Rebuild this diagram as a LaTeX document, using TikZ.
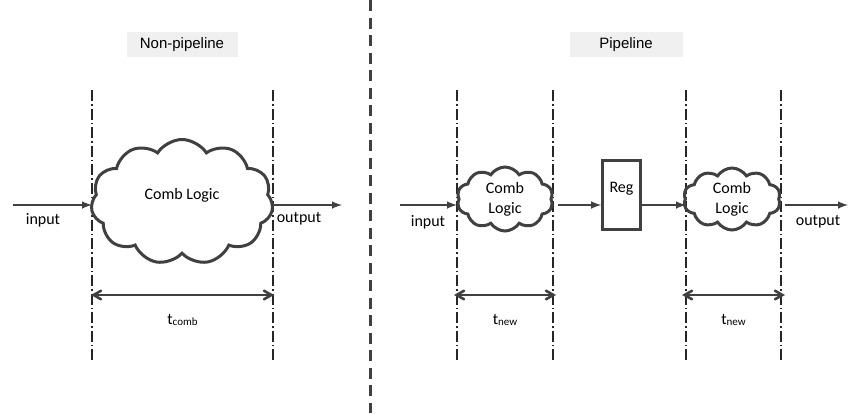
\documentclass[tikz,border=0pt]{standalone}
\usepackage{fontspec}
\setmainfont{Carlito}
\newfontfamily\headfont{Liberation Sans}
\usetikzlibrary{arrows,shapes.symbols}
\definecolor{linegray}{HTML}{404040}
\definecolor{headgray}{HTML}{F0F0F0}
\tikzstyle{cloudbox}=[cloud,draw=linegray,line width=3pt,cloud puffs=11,cloud puff arc=115,inner sep=0pt,align=center,font=\fontsize{16}{20}\selectfont]
\tikzstyle{regbox}=[rectangle,draw=linegray,line width=2.6pt,minimum width=38pt,minimum height=69pt]
\tikzstyle{edge} = [draw=linegray,line width=2.4pt,-latex]
\tikzstyle{dim} = [draw=linegray,line width=2.6pt,<->,>=angle 60]
\tikzstyle{bound} = [draw=black!85,line width=1.3pt,dash pattern=on 11pt off 3pt on 1.5pt off 3pt]
\tikzstyle{txt} = [font=\fontsize{16}{20}\selectfont,inner sep=0pt]
\tikzstyle{header} = [fill=headgray,font=\headfont\fontsize{15}{18}\selectfont,minimum height=25pt,inner sep=0pt]

\begin{document}
\begin{tikzpicture}[x=1pt,y=-1pt]
	\useasboundingbox (0,0) rectangle (850,413);

	% First the headers and the separating line
	\node[header,minimum width=111pt] (hnon) at (182,44.5) {Non-pipeline};
	\node[header,minimum width=113pt] (hpipe) at (626,44.5) {Pipeline};
	\coordinate (septop) at (370,0);
	\coordinate (sepbot) at (370,413);
	\draw[linegray,line width=3pt,dash pattern=on 11pt off 6.5pt] (septop) -- (sepbot);

	% Timing boundaries
	\foreach \x/\name in {92/A1, 273/A2, 457/B1, 553/B2, 686/C1, 781/C2}{
		\coordinate (\name t) at (\x,90);
		\coordinate (\name b) at (\x,362);
		\draw[bound] (\name t) -- (\name b);
	}

	% Logic blocks
	\node[cloudbox,minimum width=182pt,minimum height=125pt] (cloudA) at (182,202) {};
	\node[txt] (combA) at (182,195) {Comb Logic};
	\node[cloudbox,cloud puffs=10,minimum width=96pt,minimum height=64pt] (cloudB) at (505,199) {Comb\\Logic};
	\node[cloudbox,cloud puffs=10,minimum width=97pt,minimum height=62pt] (cloudC) at (732,199) {Comb\\Logic};
	\node[regbox] (reg) at (621.5,195) {};
	\node[txt] (regtxt) at (621.5,189) {Reg};

	% Signal arrows
	\coordinate (inA) at (13,205);
	\coordinate (outA) at (342,205);
	\coordinate (inB) at (400,205);
	\coordinate (fromB) at (558,205);
	\coordinate (toC) at (785,205);
	\coordinate (outC) at (848,205);
	\path[edge] (inA) -- (inA -| A1t);
	\path[edge] (A2t |- outA) -- (outA);
	\path[edge] (inB) -- (inB -| B1t);
	\path[edge] (fromB) -- (fromB -| reg.west);
	\path[edge] (reg.east |- fromB) -- (fromB -| C1t);
	\path[edge] (toC) -- (outC);

	\node[txt] (linA) at (43,220) {input};
	\node[txt] (loutA) at (299,219) {output};
	\node[txt] (linB) at (428,222) {input};
	\node[txt] (loutC) at (818,222) {output};

	% Delays
	\coordinate (dimy) at (0,295);
	\path[dim,shorten <=-1pt,shorten >=-1pt] (A1t |- dimy) -- node[txt,yshift=-25pt] (tcomb) {t\raisebox{-1.5pt}{\fontsize{11}{12}\selectfont comb}} (A2t |- dimy);
	\path[dim,shorten <=-3pt,shorten >=-3pt] (B1t |- dimy) -- node[txt,yshift=-25pt] (tnewB) {t\raisebox{-1.5pt}{\fontsize{11}{12}\selectfont new}} (B2t |- dimy);
	\path[dim,shorten <=-4pt,shorten >=-4pt] (C1t |- dimy) -- node[txt,yshift=-25pt] (tnewC) {t\raisebox{-1.5pt}{\fontsize{11}{12}\selectfont new}} (C2t |- dimy);
\end{tikzpicture}
\end{document}
